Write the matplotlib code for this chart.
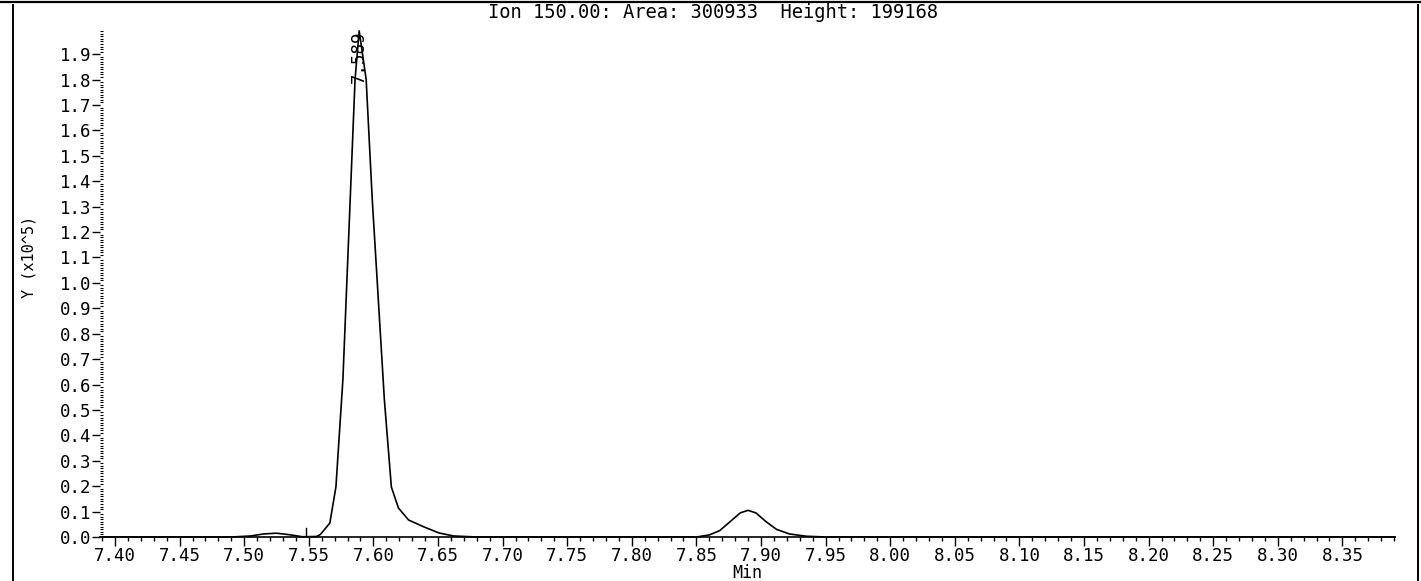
import matplotlib.pyplot as plt
import numpy as np
from matplotlib.lines import Line2D
from matplotlib.ticker import MultipleLocator, FormatStrFormatter

# retention time (min) and abundance (x10^5) for ion 150.00
rt = [7.3884, 7.490, 7.505, 7.515, 7.525, 7.535, 7.545, 7.5560, 7.5590,
      7.5663, 7.5710, 7.5764, 7.5858, 7.5890, 7.5944, 7.5991, 7.6085,
      7.6139, 7.6194, 7.6272, 7.6390, 7.6507, 7.6620, 7.6800,
      7.850, 7.860, 7.868, 7.876, 7.884, 7.890, 7.896, 7.904, 7.912,
      7.922, 7.935, 7.950, 8.100, 8.3907]
abund = [0.0, 0.0, 0.004, 0.012, 0.015, 0.009, 0.001, 0.002, 0.010,
         0.055, 0.197, 0.620, 1.800, 1.99168, 1.800, 1.330, 0.540,
         0.197, 0.114, 0.067, 0.040, 0.016, 0.004, 0.0,
         0.0, 0.008, 0.025, 0.060, 0.095, 0.105, 0.095, 0.060, 0.030,
         0.012, 0.003, 0.0, 0.0, 0.0]

peak_rt = 7.589
peak_height = 1.99168
peak_label = "7.589"
base_marker_rt = 7.5477

title = "Ion 150.00: Area: 300933  Height: 199168"

W, H = 1421, 581
fig = plt.figure(figsize=(W / 100, H / 100), dpi=100)
ax = fig.add_axes([100 / W, 1 - 537 / H, 1295 / W, 507 / H])

font = "DejaVu Sans Mono"

ax.plot(rt, abund, color="black", lw=1.2, clip_on=False)
ax.plot([base_marker_rt, base_marker_rt], [0, 0.035], color="black", lw=1.0)
ax.text(peak_rt, peak_height, peak_label, rotation=90, ha="center", va="top",
        fontsize=12.5, family=font)

ax.set_xlim(7.3884, 8.3907)
ax.set_ylim(0, 1.995)

ax.xaxis.set_minor_locator(MultipleLocator(0.01))
ax.xaxis.set_major_formatter(FormatStrFormatter("%.2f"))
ax.yaxis.set_minor_locator(MultipleLocator(0.01))
ax.yaxis.set_major_formatter(FormatStrFormatter("%.1f"))
ax.set_xticks(np.arange(7.40, 8.36, 0.05))
ax.set_yticks(np.arange(0, 1.95, 0.1))

for s in ["top", "right", "left"]:
    ax.spines[s].set_visible(False)
ax.spines["bottom"].set_linewidth(1.2)

ax.tick_params(axis="x", which="major", direction="out", length=6.5, width=1,
               pad=1, labelsize=12.5)
ax.tick_params(axis="x", which="minor", direction="out", length=3, width=1)
ax.tick_params(axis="y", which="major", direction="out", length=6, width=1,
               pad=0.5, labelsize=12.5)
ax.tick_params(axis="y", which="minor", direction="in", length=2.3, width=0.8)
for lab in ax.get_xticklabels() + ax.get_yticklabels():
    lab.set_family(font)

fig.text(713 / W, 1 - 18 / H, title, ha="center", va="baseline",
         fontsize=13.5, family=font)
fig.text(747 / W, 1 - 573 / H, "Min", ha="center", va="center",
         fontsize=12, family=font)
fig.text(29 / W, 1 - 257 / H, "Y (x10^5)", rotation=90, ha="center",
         va="center", fontsize=11, family=font)

# page frame
fig.add_artist(Line2D([0, 1], [1 - 1.5 / H, 1 - 1.5 / H],
                      transform=fig.transFigure, color="black", lw=1.6))
fig.add_artist(Line2D([13 / W, 13 / W], [0, 1 - 5 / H],
                      transform=fig.transFigure, color="black", lw=1.4))
fig.add_artist(Line2D([1418 / W, 1418 / W], [0, 1 - 5 / H],
                      transform=fig.transFigure, color="black", lw=1.4))

fig.savefig("out.png", dpi=100)
